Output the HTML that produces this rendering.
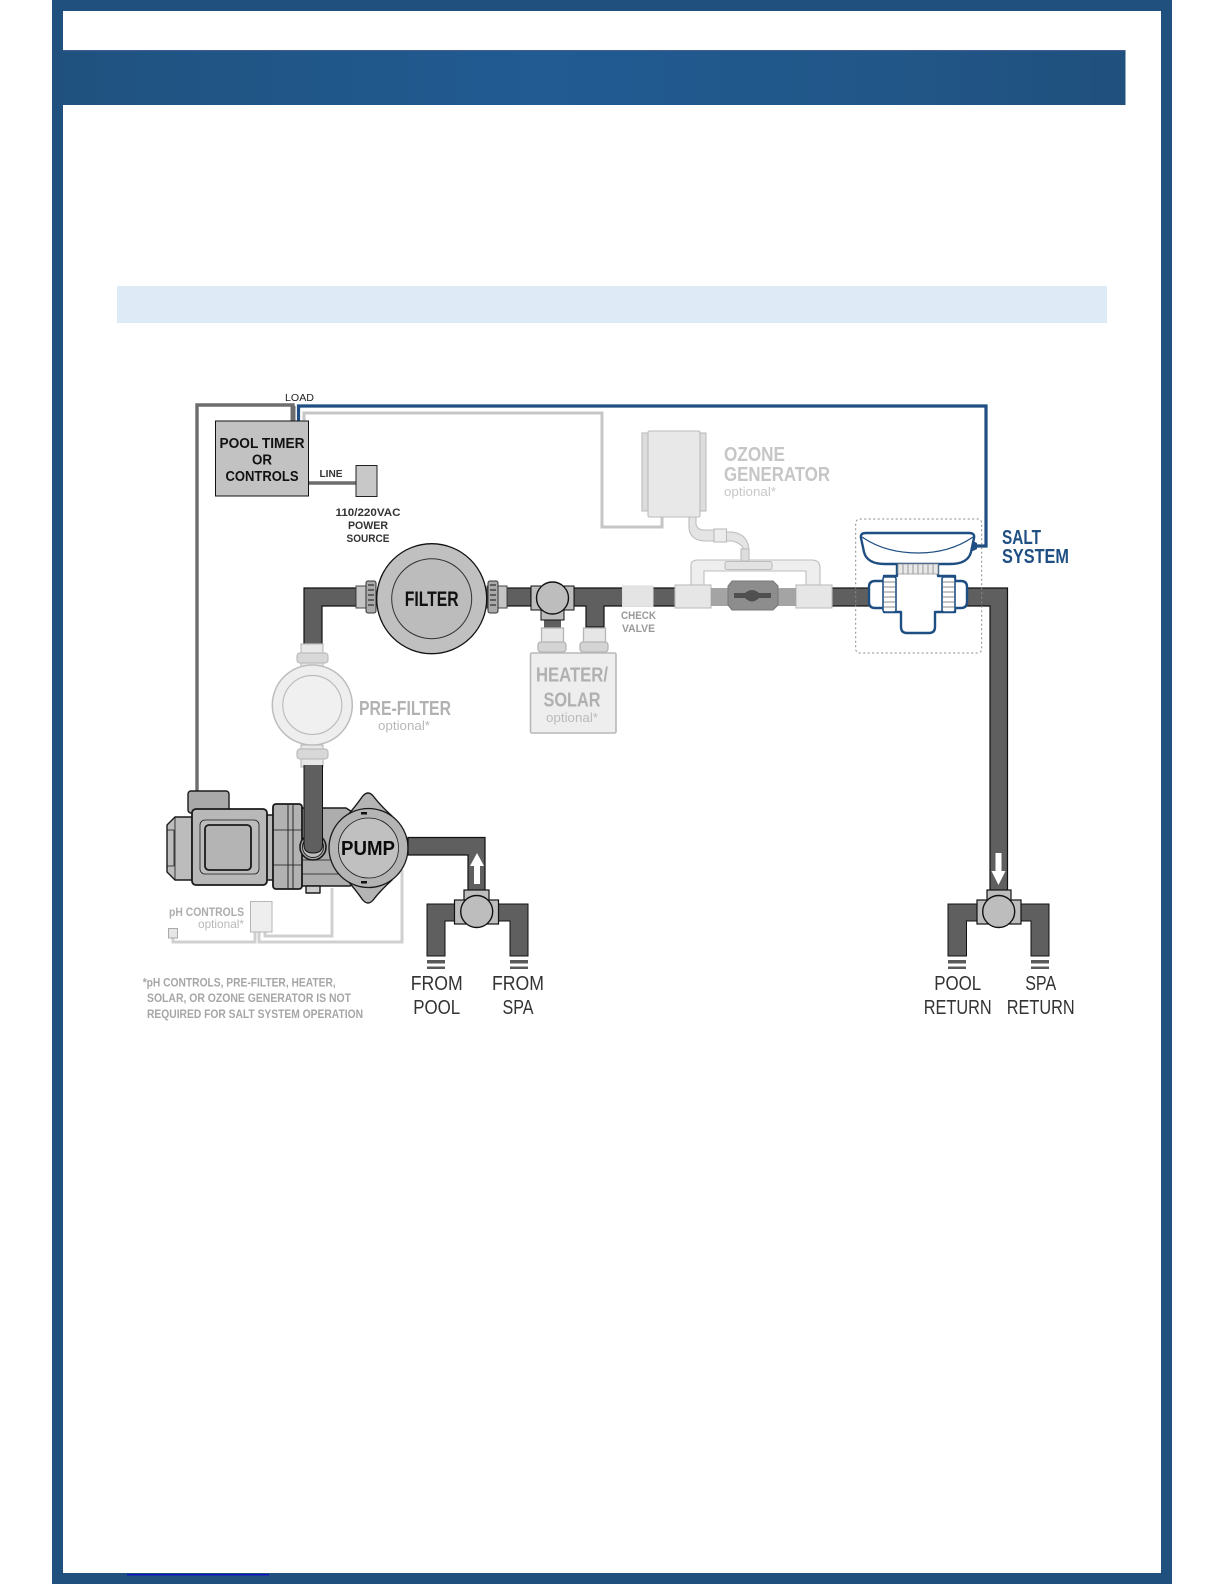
<!DOCTYPE html>
<html lang="en">
<head>
<meta charset="utf-8">
<title>Salt System Plumbing Diagram</title>
<style>
html,body{margin:0;padding:0;background:#fff}
svg{display:block}
text{font-family:"Liberation Sans",sans-serif}
</style>
</head>
<body>
<svg xmlns="http://www.w3.org/2000/svg" width="1224" height="1584" viewBox="0 0 1224 1584">
<defs>
<linearGradient id="hdr" x1="0" y1="0" x2="1" y2="0">
<stop offset="0" stop-color="#20527f"/><stop offset=".45" stop-color="#215b92"/><stop offset=".8" stop-color="#215687"/><stop offset="1" stop-color="#20507d"/>
</linearGradient>
</defs>
<rect width="1224" height="1584" fill="#fff"/>
<!-- page frame -->
<rect x="52" y="0" width="1120" height="11" fill="#20507d"/>
<rect x="52" y="1573" width="1120" height="11" fill="#20507d"/>
<rect x="52" y="0" width="11" height="1584" fill="#20507d"/>
<rect x="1161" y="0" width="11" height="1584" fill="#20507d"/>
<rect x="63" y="50" width="1062.500" height="55" fill="url(#hdr)"/>
<rect x="63" y="50" width="1062.500" height="1.200" fill="#3f5b92"/>
<rect x="117" y="286" width="990" height="37" fill="#deeaf6"/>
<rect x="127" y="1574" width="142" height="1.400" fill="#0a10c8"/>

<!-- light wires -->
<g fill="none" stroke="#c6c6c6" stroke-width="3">
<path d="M304 421V413H602V527H662V517"/>
<path d="M173 938V942H255V932" stroke="#d0d0d0"/>
<path d="M259 932V942H402V870" stroke="#d0d0d0"/>
<path d="M265 932V936H332V888" stroke="#d0d0d0"/>
</g>
<!-- gray wires -->
<path d="M197 795V405H293V421" fill="none" stroke="#6d6d6d" stroke-width="3.400"/>
<path d="M293 406V421" stroke="#6d6d6d" stroke-width="5" fill="none"/>
<path d="M308 483H356" stroke="#6d6d6d" stroke-width="3.600" fill="none"/>
<!-- blue wire -->
<path d="M298.500 421V406H986V546H973" fill="none" stroke="#1f4f82" stroke-width="3.200"/>
<path d="M968 541h5l4 2v6l-4 2h-5z" fill="#1f4f82"/>

<!-- controls -->
<rect x="215.500" y="421" width="93" height="75" fill="#c2c2c2" stroke="#111" stroke-width="1"/>
<rect x="356" y="465.500" width="21" height="31" fill="#c8c8c8" stroke="#222" stroke-width="1"/>
<g text-anchor="middle" font-weight="700" fill="#111" font-size="14.500">
<text x="262" y="448" textLength="85" lengthAdjust="spacingAndGlyphs">POOL TIMER</text>
<text x="262" y="464.500" textLength="20" lengthAdjust="spacingAndGlyphs">OR</text>
<text x="262" y="481" textLength="73" lengthAdjust="spacingAndGlyphs">CONTROLS</text>
</g>
<g text-anchor="middle" fill="#222">
<text x="299.500" y="401" font-size="10.500" textLength="29" lengthAdjust="spacingAndGlyphs">LOAD</text>
<text x="331" y="477" font-size="10.500" font-weight="700" fill="#333" textLength="23" lengthAdjust="spacingAndGlyphs">LINE</text>
<text x="368" y="516" font-size="11" font-weight="700" fill="#333" textLength="65" lengthAdjust="spacingAndGlyphs">110/220VAC</text>
<text x="368" y="529" font-size="11" font-weight="700" fill="#333" textLength="40" lengthAdjust="spacingAndGlyphs">POWER</text>
<text x="368" y="542" font-size="11" font-weight="700" fill="#333" textLength="43" lengthAdjust="spacingAndGlyphs">SOURCE</text>
</g>

<!-- main pipes -->
<g fill="#5f5f5f" stroke="#111" stroke-width="1.200">
<path d="M304 648V588H356V606H322V648Z"/>
<rect x="507" y="588" width="24" height="18"/>
<path d="M574 588H676V606H604V627H586V606H574Z"/>
<rect x="830" y="588" width="40" height="18"/>
<path d="M966 588H1007.500V891H990V606H966Z"/>
<rect x="544" y="610" width="17" height="18" stroke="none"/>
</g>

<!-- filter -->
<g>
<rect x="356" y="586" width="20" height="22" fill="#c4c4c4" stroke="#444"/>
<rect x="366" y="581" width="10" height="32" rx="2" fill="#aaa" stroke="#333"/>
<path d="M368 585h6M368 590h6M368 595h6M368 600h6M368 605h6" stroke="#333" stroke-width="1.200"/>
<rect x="487" y="586" width="20" height="22" fill="#c4c4c4" stroke="#444"/>
<rect x="488" y="581" width="10" height="32" rx="2" fill="#aaa" stroke="#333"/>
<path d="M490 585h6M490 590h6M490 595h6M490 600h6M490 605h6" stroke="#333" stroke-width="1.200"/>
<circle cx="431.700" cy="598.700" r="55" fill="#c0c0c0" stroke="#111" stroke-width="1.300"/>
<circle cx="431.700" cy="598.700" r="40" fill="#bcbcbc" stroke="#333" stroke-width="1"/>
<text x="431.700" y="606" text-anchor="middle" font-size="21" font-weight="700" fill="#111" textLength="54" lengthAdjust="spacingAndGlyphs">FILTER</text>
</g>

<!-- filter-side valve -->
<rect x="541" y="606" width="23" height="14" fill="#bdbdbd" stroke="#111"/>
<rect x="531" y="586" width="43" height="24" fill="#bdbdbd" stroke="#111"/>
<circle cx="552.500" cy="598" r="16" fill="#bdbdbd" stroke="#111" stroke-width="1.400"/>

<!-- heater -->
<g fill="#e6e6e6" stroke="#b5b5b5" stroke-width="1.300">
<rect x="541.500" y="628" width="22" height="18"/>
<rect x="538" y="642" width="28" height="10" rx="3" fill="#d4d4d4"/>
<rect x="583.500" y="628" width="22" height="18"/>
<rect x="580" y="642" width="28" height="10" rx="3" fill="#d4d4d4"/>
<rect x="530.500" y="653" width="85.500" height="80" rx="1.500" fill="#eeeeee" stroke="#b8b8b8" stroke-width="1.600"/>
</g>
<g text-anchor="middle" font-weight="700" fill="#b0b0b0">
<text x="572" y="681.500" font-size="20" textLength="72" lengthAdjust="spacingAndGlyphs">HEATER/</text>
<text x="572" y="706.500" font-size="20" textLength="57" lengthAdjust="spacingAndGlyphs">SOLAR</text>
</g>
<text x="572" y="722" text-anchor="middle" font-size="13" fill="#bbb" textLength="52" lengthAdjust="spacingAndGlyphs">optional*</text>

<!-- check valve -->
<rect x="622.500" y="586" width="30.500" height="20.500" fill="#e4e4e4" stroke="#ddd"/>
<g text-anchor="middle" font-size="11" font-weight="700" fill="#999">
<text x="638.500" y="619" textLength="35" lengthAdjust="spacingAndGlyphs">CHECK</text>
<text x="638.500" y="632" textLength="33" lengthAdjust="spacingAndGlyphs">VALVE</text>
</g>

<!-- ozone -->
<g fill="#eeeeee" stroke="#bdbdbd" stroke-width="1.100">
<rect x="642" y="433" width="6" height="78" fill="#ddd"/>
<rect x="700" y="433" width="6" height="78" fill="#ddd"/>
<rect x="648" y="431" width="52" height="86" rx="1.500" fill="#e8e8e8"/>
<path d="M689 517V528Q690 540 704 541H714V530H704Q697 530 696 524V517Z" fill="#e4e4e4"/>
<path d="M726 532H732Q749 534 749 552V560H744V552Q744 544 732 541H726Z" fill="#e4e4e4"/>
<rect x="714" y="529" width="12.500" height="13" fill="#ececec"/>
<path d="M691 585V564Q692 560 698 560H812Q820 560 820 568V585H806V571H704V585Z" fill="#eeeeee"/>
<rect x="725" y="561.500" width="47" height="8" rx="2" fill="#e2e2e2"/>
<rect x="741" y="549" width="8" height="12" fill="#ddd"/>
<rect x="675" y="585" width="36" height="23" fill="#e6e6e6"/>
<rect x="796" y="585" width="36" height="23" fill="#e6e6e6"/>
</g>
<rect x="711" y="588" width="85" height="18" fill="#a4a4a4"/>
<path d="M732 581H773L778 586V605L773 610H732L728 605V586Z" fill="#8d8d8d" stroke="#777"/>
<path d="M734 593L745 593Q752 587 759 593L771 593V598L759 598Q752 605 745 598L734 598Z" fill="#4f4f4f"/>
<text x="724" y="461" font-size="20" font-weight="700" fill="#c6c6c6" textLength="61" lengthAdjust="spacingAndGlyphs">OZONE</text>
<text x="724" y="481" font-size="20" font-weight="700" fill="#c6c6c6" textLength="106" lengthAdjust="spacingAndGlyphs">GENERATOR</text>
<text x="724" y="496" font-size="13" fill="#c8c8c8" textLength="52" lengthAdjust="spacingAndGlyphs">optional*</text>

<!-- salt cell -->
<rect x="855.700" y="519" width="126" height="134" rx="4" fill="none" stroke="#8a8a8a" stroke-width="1" stroke-dasharray="2 2.500"/>
<g stroke="#1f4f82" fill="#fff" stroke-linejoin="round">
<path d="M897 564V576H884V581H875Q869 581 869 587V602Q869 608 875 608H884V612H901V627Q901 633 907 633H929Q935 633 935 627V612H955V608H961Q967 608 967 602V587Q967 581 961 581H955V576H938V564Z" stroke-width="2.400"/>
<rect x="883" y="577" width="13" height="35" rx="2" stroke-width="1.600"/>
<rect x="942" y="577" width="13" height="35" rx="2" stroke-width="1.600"/>
<path d="M861 538Q860 533 866 533H969Q975 533 974 538L971 552Q968 564 950 564H885Q867 564 864 552Z" stroke-width="2.400"/>
<path d="M862 537Q885 553 918 553Q950 553 973 537" fill="none" stroke-width="1.200"/>
</g>
<rect x="898" y="564" width="40" height="10" fill="#e8e8e8" stroke="#999" stroke-width=".8"/>
<path d="M903 564v10M908 564v10M913 564v10M918 564v10M923 564v10M928 564v10M933 564v10" stroke="#999" stroke-width="1"/>
<path d="M884 582h11M884 587h11M884 592h11M884 597h11M884 602h11M884 607h11M943 582h11M943 587h11M943 592h11M943 597h11M943 602h11M943 607h11" stroke="#888" stroke-width="1"/>
<text x="1002" y="544" font-size="20" font-weight="700" fill="#1f4f82" textLength="39" lengthAdjust="spacingAndGlyphs">SALT</text>
<text x="1002" y="563" font-size="20" font-weight="700" fill="#1f4f82" textLength="67" lengthAdjust="spacingAndGlyphs">SYSTEM</text>

<!-- prefilter -->
<g fill="#eeeeee" stroke="#bdbdbd" stroke-width="1.200">
<rect x="301" y="644" width="22" height="24" fill="#e8e8e8"/>
<rect x="297" y="653" width="31" height="10" rx="3" fill="#d8d8d8"/>
<rect x="301" y="745" width="22" height="22" fill="#e8e8e8"/>
<rect x="297" y="749" width="31" height="10" rx="3" fill="#d8d8d8"/>
<circle cx="312.300" cy="705" r="40" stroke-width="1.500"/>
<circle cx="312.300" cy="705" r="29.500" fill="#f0f0f0"/>
</g>
<text x="359" y="715" font-size="20" font-weight="700" fill="#b2b2b2" textLength="92" lengthAdjust="spacingAndGlyphs">PRE-FILTER</text>
<text x="404" y="730" text-anchor="middle" font-size="13" fill="#b8b8b8" textLength="52" lengthAdjust="spacingAndGlyphs">optional*</text>

<!-- pump -->
<g stroke="#1a1a1a" stroke-width="1.400" fill="#b2b2b2" stroke-linejoin="round">
<rect x="188" y="791" width="41" height="22" rx="3" fill="#a9a9a9"/>
<path d="M175 817H192V880H175L167 872V825Z" fill="#bcbcbc"/>
<path d="M167 830H174V866H167M175 817V880" fill="none" stroke-width=".8"/>
<rect x="266" y="815" width="8" height="65" fill="#b8b8b8"/>
<rect x="192" y="809" width="75" height="76" rx="4" fill="#b8b8b8" stroke-width="1.800"/>
<rect x="200" y="820" width="59" height="54" rx="5" fill="#bcbcbc" stroke-width=".8"/>
<rect x="205" y="825" width="46" height="45" rx="4" fill="#b4b4b4" stroke-width="1.800"/>
<path d="M301 808H346L362 818V878L350 886H301Z" fill="#adadad"/>
<path d="M301 860H340M301 874H345" stroke-width=".7" fill="none"/>
<rect x="273" y="804" width="29" height="85" rx="3" fill="#b2b2b2" stroke-width="1.800"/>
<path d="M288 804V889M293 804V889" stroke-width=".9" fill="none"/>
<path d="M273 830H302M273 865H302" stroke-width=".7" fill="none"/>
<rect x="306" y="886" width="14" height="7" fill="#ccc"/>
<circle cx="313" cy="847" r="13" fill="#a8a8a8" stroke-width="1.600"/>
<circle cx="313" cy="847" r="10.500" fill="#bbb" stroke-width=".9"/>
<path d="M348 815Q358 803 362 797Q368 789 374 797Q380 805 392 816Q370 804 348 815Z" fill="#b4b4b4"/>
<path d="M348 881Q358 893 362 899Q368 907 374 899Q380 891 392 880Q370 892 348 881Z" fill="#b4b4b4"/>
<circle cx="368.500" cy="848" r="39.500" fill="#b4b4b4" stroke-width="1.300"/>
<circle cx="368.500" cy="848" r="30" fill="#c0c0c0" stroke-width=".8"/>
<rect x="361" y="812" width="6" height="2.500" fill="#111" stroke="none"/>
<rect x="361" y="881" width="6" height="2.500" fill="#111" stroke="none"/>
</g>
<path d="M304 765V845Q304 853 313 853Q322.500 853 322.500 845V765" fill="#5f5f5f" stroke="#111"/>
<text x="368" y="855" text-anchor="middle" font-size="20" font-weight="700" fill="#0a0a0a" textLength="54" lengthAdjust="spacingAndGlyphs">PUMP</text>

<!-- pump output -->
<path d="M408 837.500H485V891H468V855H408Z" fill="#5f5f5f" stroke="#111" stroke-width="1.200"/>
<path d="M477 853L484 866H480V884H474V866H470Z" fill="#fff"/>

<!-- valves -->
<g fill="#5f5f5f" stroke="#111" stroke-width="1">
<path d="M427 956V904H455V921H445V956Z"/>
<path d="M528 956V904H497V921H510V956Z"/>
<path d="M948 956V904H978V921H966.500V956Z"/>
<path d="M1049 956V904H1020V921H1031V956Z"/>
</g>
<g fill="#5a5a5a">
<rect x="427" y="960" width="18" height="3.500"/><rect x="427" y="966.500" width="18" height="2.500"/>
<rect x="510" y="960" width="18" height="3.500"/><rect x="510" y="966.500" width="18" height="2.500"/>
<rect x="948" y="960" width="18" height="3.500"/><rect x="948" y="966.500" width="18" height="2.500"/>
<rect x="1031" y="960" width="18" height="3.500"/><rect x="1031" y="966.500" width="18" height="2.500"/>
</g>
<g fill="#bdbdbd" stroke="#111" stroke-width="1.200">
<rect x="464" y="890" width="25" height="12"/>
<rect x="454.500" y="900" width="44" height="24"/>
<circle cx="476.700" cy="911.500" r="16" stroke-width="1.400"/>
<rect x="987" y="890" width="24" height="12"/>
<rect x="977" y="900" width="44" height="24"/>
<circle cx="998.700" cy="911.500" r="16" stroke-width="1.400"/>
</g>
<path d="M998.500 885L991.500 871H995.500V853H1001.500V871H1005.500Z" fill="#fff"/>

<!-- bottom labels -->
<g text-anchor="middle" font-size="20" fill="#333">
<text x="436.700" y="990" textLength="52" lengthAdjust="spacingAndGlyphs">FROM</text>
<text x="436.700" y="1014" textLength="47" lengthAdjust="spacingAndGlyphs">POOL</text>
<text x="518" y="990" textLength="52" lengthAdjust="spacingAndGlyphs">FROM</text>
<text x="518" y="1014" textLength="31" lengthAdjust="spacingAndGlyphs">SPA</text>
<text x="957.700" y="990" textLength="47" lengthAdjust="spacingAndGlyphs">POOL</text>
<text x="957.700" y="1014" textLength="68" lengthAdjust="spacingAndGlyphs">RETURN</text>
<text x="1040.700" y="990" textLength="31" lengthAdjust="spacingAndGlyphs">SPA</text>
<text x="1040.700" y="1014" textLength="68" lengthAdjust="spacingAndGlyphs">RETURN</text>
</g>

<!-- pH -->
<rect x="250.500" y="901.500" width="21.500" height="30.500" fill="#eeeeee" stroke="#b5b5b5"/>
<rect x="168.500" y="928.500" width="9" height="9.500" fill="#e6e6e6" stroke="#aaa"/>
<text x="244" y="916" text-anchor="end" font-size="12" font-weight="700" fill="#adadad" textLength="75" lengthAdjust="spacingAndGlyphs">pH CONTROLS</text>
<text x="244" y="928" text-anchor="end" font-size="12" fill="#b8b8b8" textLength="46" lengthAdjust="spacingAndGlyphs">optional*</text>
<g font-size="12" font-weight="700" fill="#a6a6a6">
<text x="142.700" y="986.500" textLength="193" lengthAdjust="spacingAndGlyphs">*pH CONTROLS, PRE-FILTER, HEATER,</text>
<text x="147" y="1002" textLength="204" lengthAdjust="spacingAndGlyphs">SOLAR, OR OZONE GENERATOR IS NOT</text>
<text x="147" y="1018" textLength="216" lengthAdjust="spacingAndGlyphs">REQUIRED FOR SALT SYSTEM OPERATION</text>
</g>
</svg>
</body>
</html>
